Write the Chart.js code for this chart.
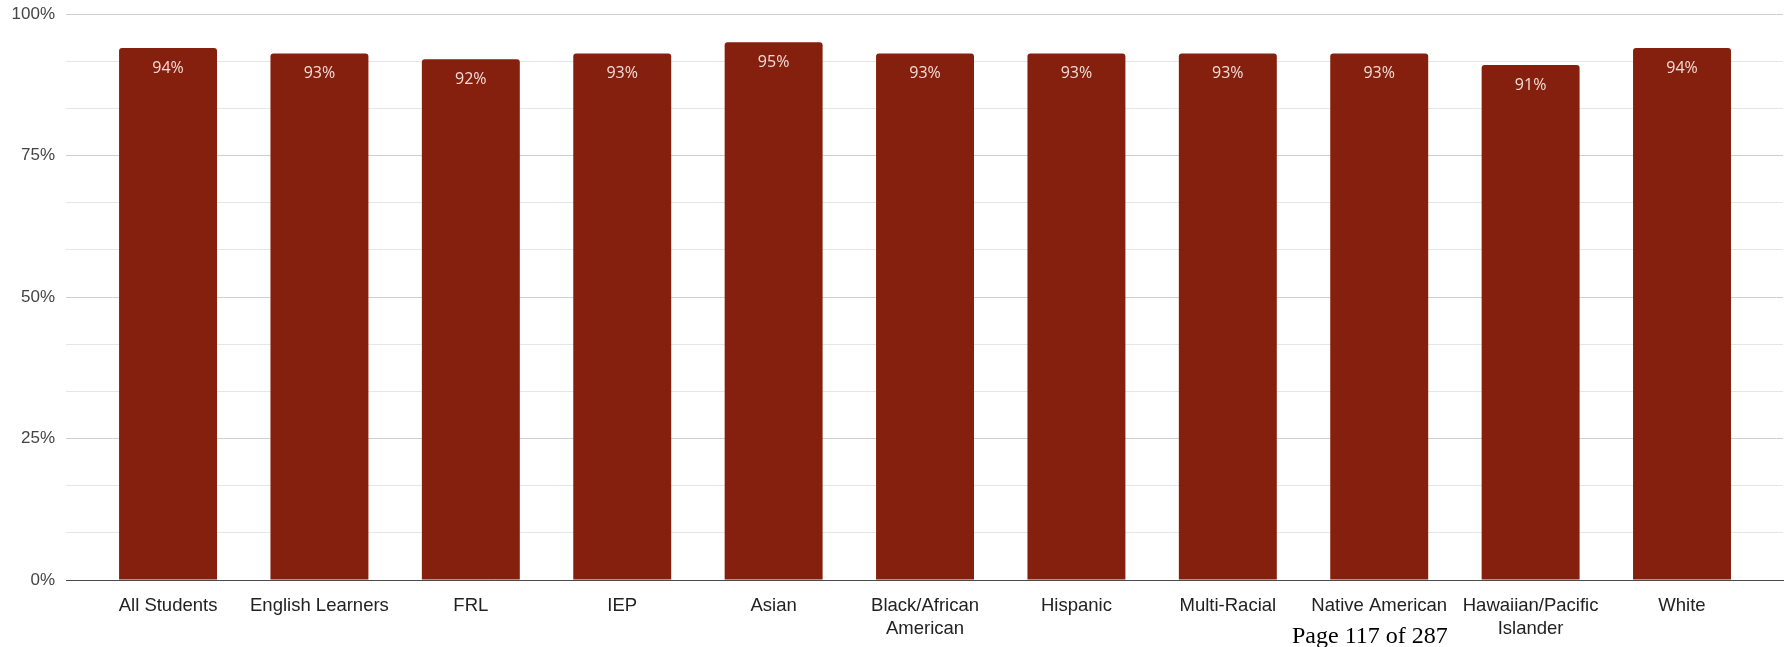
<!DOCTYPE html>
<html lang="en">
<head>
  <meta charset="UTF-8">
  <title>Attendance by Student Group</title>
  <script src="https://cdn.jsdelivr.net/npm/chart.js"></script>
  <style>
    body { margin: 0; background: #fff; }
    #wrap { position: relative; width: 1787px; height: 647px; }
    #pageNo {
      position: absolute; left: 1292px; top: 623px;
      font: 24px "Liberation Serif", "Times New Roman", serif;
      line-height: 24px; color: #000; white-space: nowrap;
    }
  </style>
</head>
<body>
  <div id="wrap">
    <canvas id="groupChart" width="1787" height="647"></canvas>
    <div id="pageNo">Page 117 of 287</div>
  </div>
  <script>
    const groups = [
      'All Students', 'English Learners', 'FRL', 'IEP', 'Asian',
      ['Black/African', 'American'], 'Hispanic', 'Multi-Racial',
      'Native American', ['Hawaiian/Pacific', 'Islander'], 'White'
    ];
    const rates = [94, 93, 92, 93, 95, 93, 93, 93, 93, 91, 94];
    const yTicks = [0, 25, 50, 75, 100];

    const barColor = '#86200e';

    // value printed just inside the top of each bar
    const barValues = {
      id: 'barValues',
      afterDatasetsDraw(chart) {
        const ctx = chart.ctx;
        const meta = chart.getDatasetMeta(0);
        ctx.save();
        ctx.font = '16px "Open Sans", sans-serif';
        ctx.fillStyle = '#f2dcd7';
        ctx.textAlign = 'center';
        ctx.textBaseline = 'middle';
        meta.data.forEach((bar, i) => {
          ctx.fillText(rates[i] + '%', bar.x, bar.y + 20);
        });
        ctx.restore();
      }
    };

    const isMajor = v => yTicks.some(t => Math.abs(t - v) < 1e-6);

    new Chart(document.getElementById('groupChart'), {
      type: 'bar',
      data: {
        datasets: [{
          data: rates.map((v, i) => ({ x: i, y: v })),
          backgroundColor: barColor,
          borderRadius: { topLeft: 3, topRight: 3 },
          borderSkipped: 'bottom',
          categoryPercentage: 1,
          barPercentage: 0.647
        }]
      },
      options: {
        responsive: false,
        animation: false,
        layout: { padding: { top: 14, right: 4, left: 0, bottom: 0 } },
        plugins: { legend: { display: false }, tooltip: { enabled: false } },
        scales: {
          x: {
            type: 'linear',
            offset: false,
            min: -0.674,
            max: 10.667,
            grid: { display: false },
            border: { display: true, color: '#4a4a4a', width: 1 },
            afterFit(scale) { scale.height = 67; },
            ticks: {
              stepSize: 1,
              includeBounds: false,
              autoSkip: false,
              maxRotation: 0,
              padding: 6,
              color: '#222',
              font: { family: '"Liberation Sans", Arial, sans-serif', size: 18.5, lineHeight: 1.27 },
              callback: v => groups[v] !== undefined ? groups[v] : ''
            }
          },
          y: {
            min: 0,
            max: 100,
            border: { display: false },
            afterFit(scale) {
              scale.width = 66;
              // let layout.padding alone decide the top/bottom of the plot
              scale.paddingTop = 0;
              scale.paddingBottom = 0;
            },
            grid: {
              drawTicks: false,
              color: c => c.tick.value === 0 ? '#4a4a4a' : (isMajor(c.tick.value) ? '#cfcfcf' : '#e6e6e6'),
              lineWidth: 1
            },
            ticks: {
              stepSize: 25 / 3,
              padding: 11,
              color: '#444',
              font: { family: '"Liberation Sans", Arial, sans-serif', size: 17 },
              callback: v => isMajor(v) ? Math.round(v) + '%' : ''
            }
          }
        }
      },
      plugins: [barValues]
    });
  </script>
</body>
</html>
